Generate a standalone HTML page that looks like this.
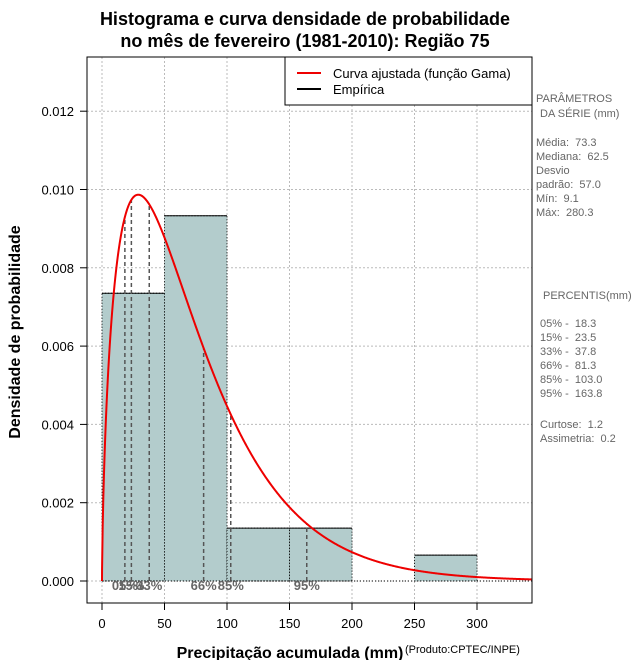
<!DOCTYPE html>
<html><head><meta charset="utf-8"><style>
body{margin:0;background:#fff;}
svg{display:block;font-family:"Liberation Sans",sans-serif;}
text{white-space:pre;}
</style></head><body>
<svg id="chart" width="640" height="660" viewBox="0 0 640 660">
<text x="305" y="25" text-anchor="middle" font-size="18" font-weight="bold">Histograma e curva densidade de probabilidade</text>
<text x="305" y="47" text-anchor="middle" font-size="18" font-weight="bold">no mês de fevereiro (1981-2010): Região 75</text>
<g id="grid"></g>
<g id="bars"></g>
<g id="pct"></g>
<path id="curve" fill="none" stroke="#ee0000" stroke-width="2"/>
<rect x="87" y="57" width="445" height="546" fill="none" stroke="#000"/>
<g id="axes"></g>
<g>
<rect x="285" y="57" width="247" height="48" fill="#fff" stroke="#000"/>
<line x1="297" y1="73" x2="321" y2="73" stroke="#ee0000" stroke-width="2"/>
<text x="333" y="78" font-size="13">Curva ajustada (função Gama)</text>
<line x1="297" y1="89" x2="321" y2="89" stroke="#000" stroke-width="2"/>
<text x="333" y="94" font-size="13">Empírica</text>
</g>
<text x="20" y="332" transform="rotate(-90 20 332)" text-anchor="middle" font-size="16" font-weight="bold">Densidade de probabilidade</text>
<text x="290" y="658" text-anchor="middle" font-size="16" font-weight="bold">Precipitação acumulada (mm)</text>
<text x="405" y="653" font-size="11">(Produto:CPTEC/INPE)</text>
<g font-size="11" fill="#666">
<text x="536" y="102">PARÂMETROS</text><text x="540" y="117">DA SÉRIE (mm)</text>
<text x="536" y="146">Média:  73.3</text><text x="536" y="160">Mediana:  62.5</text>
<text x="536" y="174">Desvio</text><text x="536" y="188">padrão:  57.0</text>
<text x="536" y="202">Mín:  9.1</text><text x="536" y="216">Máx:  280.3</text>
<text x="543" y="299">PERCENTIS(mm)</text>
<text x="540" y="327">05% -  18.3</text><text x="540" y="341">15% -  23.5</text>
<text x="540" y="355">33% -  37.8</text><text x="540" y="369">66% -  81.3</text>
<text x="540" y="383">85% -  103.0</text><text x="540" y="397">95% -  163.8</text>
<text x="540" y="428">Curtose:  1.2</text><text x="540" y="442">Assimetria:  0.2</text>
</g>
</svg>
<script>
const binStarts=[0,50,100,150,200,250];
const binEnds=[50,100,150,200,250,300];
const binDensity=[0.00735,0.00933,0.00135,0.00135,0,0.00066];
const xTicks=[0,50,100,150,200,250,300];
const yTicks=[0,0.002,0.004,0.006,0.008,0.010,0.012];
const yTickLabels=["0.000","0.002","0.004","0.006","0.008","0.010","0.012"];
const pctValues=[18.3,23.5,37.8,81.3,103.0,163.8];
const pctLabels=["05%","15%","33%","66%","85%","95%"];
const seriesMean=73.3, seriesSd=57.0;
const NS="http://www.w3.org/2000/svg";
const X=v=>102+v*1.25;
const Y=v=>581-v*39150;
function mk(t,a,p){const e=document.createElementNS(NS,t);for(const k in a)e.setAttribute(k,a[k]);p.appendChild(e);return e;}
const k=Math.pow(seriesMean/seriesSd,2), th=seriesSd*seriesSd/seriesMean;
function lgamma(z){const g=7,c=[0.99999999999980993,676.5203681218851,-1259.1392167224028,771.32342877765313,-176.61502916214059,12.507343278686905,-0.13857109526572012,9.9843695780195716e-6,1.5056327351493116e-7];z-=1;let x=c[0];for(let i=1;i<9;i++)x+=c[i]/(z+i);const t=z+g+0.5;return 0.5*Math.log(2*Math.PI)+(z+0.5)*Math.log(t)-t+Math.log(x);}
const lg=lgamma(k);
const pdf=x=>x<=0?0:Math.exp((k-1)*Math.log(x)-x/th-k*Math.log(th)-lg);
const grid=document.getElementById('grid'),bars=document.getElementById('bars'),pct=document.getElementById('pct'),axes=document.getElementById('axes');
xTicks.forEach(v=>{const l=mk('line',{x1:X(v),x2:X(v),y1:57,y2:603,stroke:'#bbb','stroke-dasharray':'2,2'},grid);


const t=mk('line',{x1:X(v),x2:X(v),y1:603,y2:610,stroke:'#000'},axes);


const tx=mk('text',{x:X(v),y:628,'text-anchor':'middle','font-size':13},axes);tx.textContent=v;

});
yTicks.forEach((v,i)=>{const l=mk('line',{x1:87,x2:532,y1:Y(v),y2:Y(v),stroke:'#bbb','stroke-dasharray':'2,2'},grid);


const t=mk('line',{x1:80,x2:87,y1:Y(v),y2:Y(v),stroke:'#000'},axes);


const tx=mk('text',{x:74,y:Y(v)+5,'text-anchor':'end','font-size':13},axes);tx.textContent=yTickLabels[i];

});
binStarts.forEach((s,i)=>{if(binDensity[i]<=0)return;const r=mk('rect',{x:X(s),y:Y(binDensity[i]),width:X(binEnds[i])-X(s),height:Y(0)-Y(binDensity[i]),fill:'#b3cccc',stroke:'#000','stroke-dasharray':'1,2'},bars);


const tl=mk('line',{x1:X(s),x2:X(binEnds[i]),y1:Y(binDensity[i]),y2:Y(binDensity[i]),stroke:'#000'},bars);

});
const base=mk('line',{x1:X(0),x2:532,y1:Y(0),y2:Y(0),stroke:'#000','stroke-dasharray':'1,2'},bars);


pctValues.forEach((v,i)=>{const l=mk('line',{x1:X(v),x2:X(v),y1:Y(0),y2:Y(pdf(v)),stroke:'#555','stroke-width':1.5,'stroke-dasharray':'4,3'},pct);


const t=mk('text',{x:X(v),y:590,'text-anchor':'middle','font-size':13,fill:'#666','font-weight':'bold'},pct);t.textContent=pctLabels[i];

});
let d='M'+X(0)+','+Y(0);
for(let x=0.05;x<=344;x+=0.5){d+=' L'+X(x).toFixed(2)+','+Y(pdf(x)).toFixed(2);}
document.getElementById('curve').setAttribute('d',d);
</script>
</body></html>
